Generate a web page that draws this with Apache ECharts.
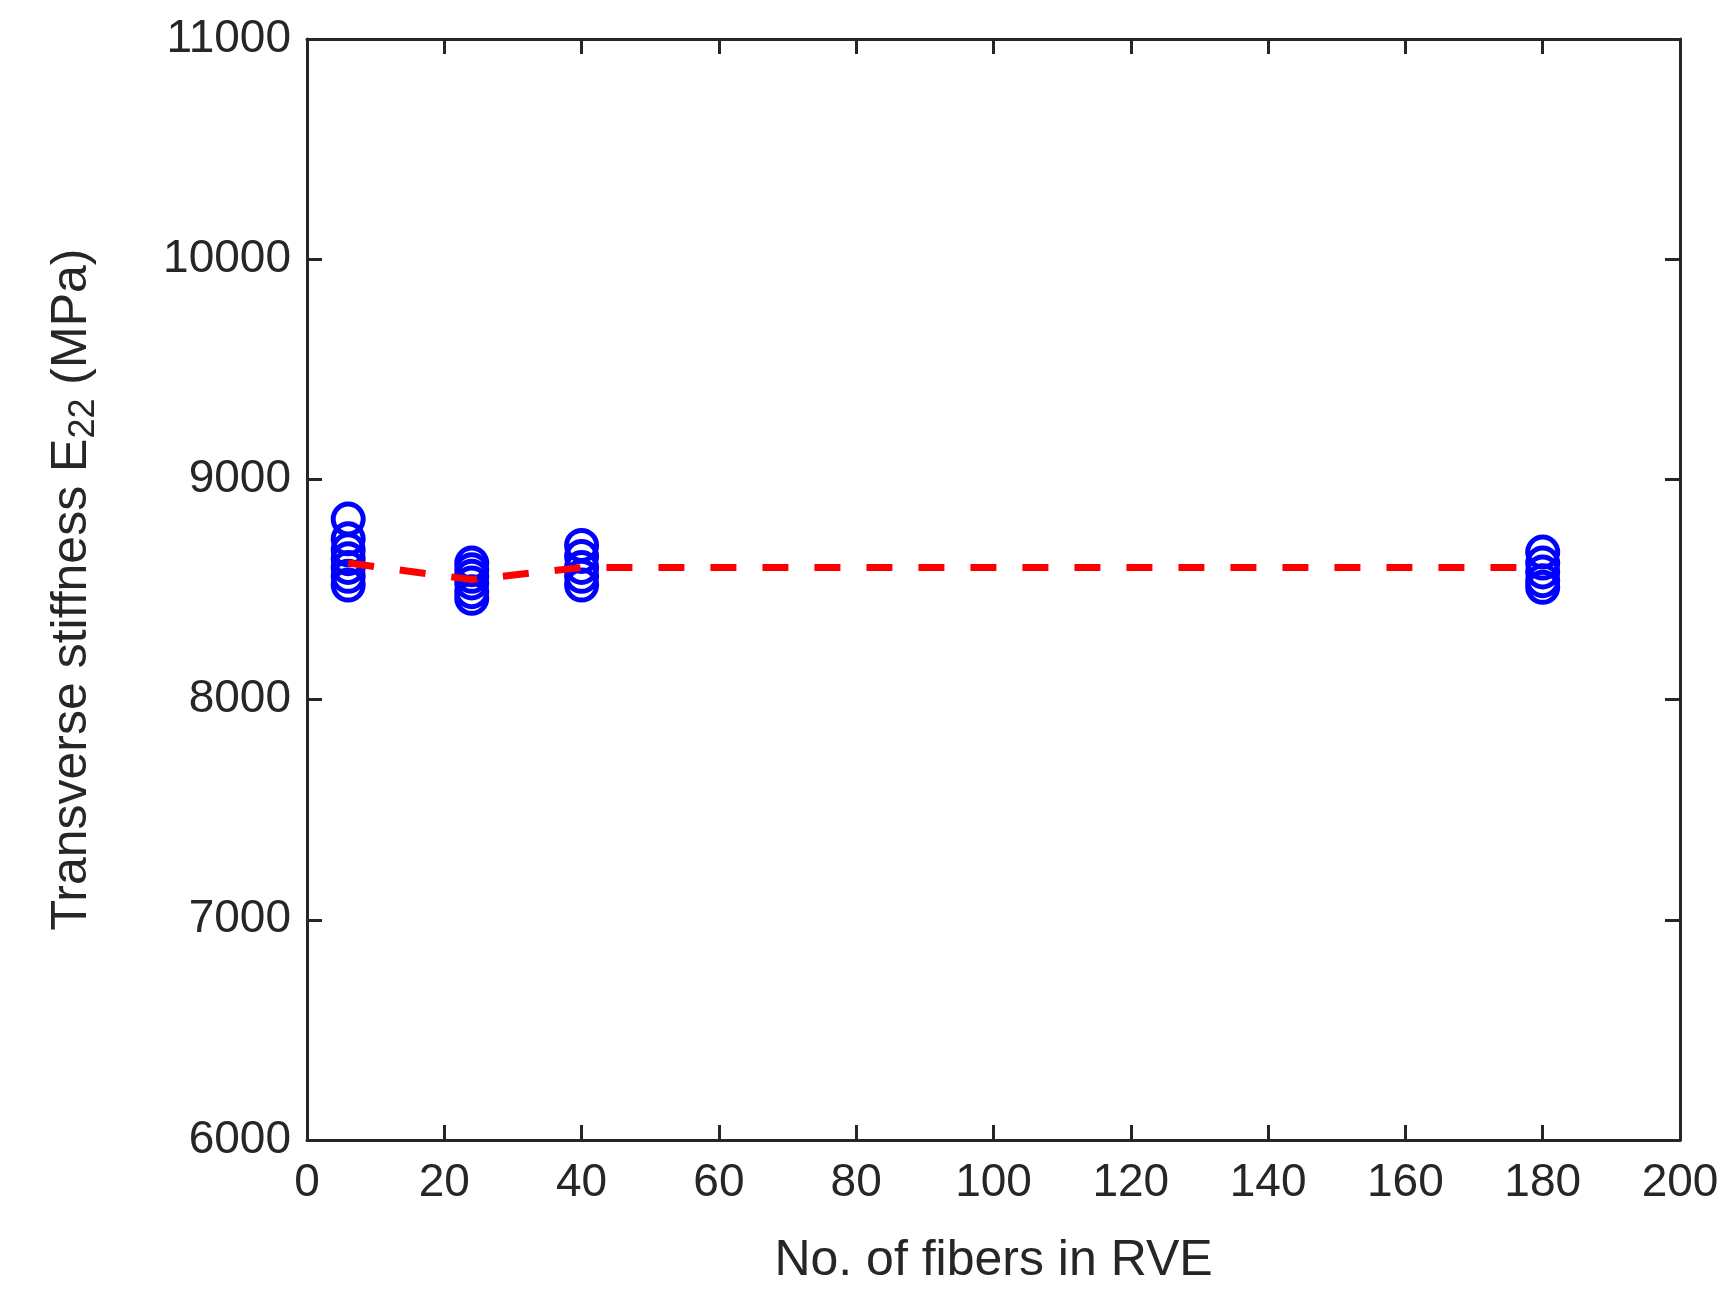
<!DOCTYPE html>
<html>
<head>
<meta charset="utf-8">
<script src="https://cdn.jsdelivr.net/npm/echarts@6/dist/echarts.min.js"></script>
<style>html,body{margin:0;padding:0;background:#fff}#chart{width:1730px;height:1314px}</style>
</head>
<body>
<div id="chart"></div>
<script>
'use strict';
var fiberCounts = [6, 24, 40, 180];
var samples6 = [8820, 8730, 8680, 8640, 8600, 8560, 8520];
var samples24 = [8620, 8590, 8560, 8530, 8490, 8460];
var samples40 = [8700, 8650, 8600, 8560, 8520];
var samples180 = [8670, 8620, 8580, 8540, 8510];
var meanValues = [8620, 8545, 8600, 8600];

var allSamples = [samples6, samples24, samples40, samples180];
var scatterData = [];
allSamples.forEach(function (arr, i) {
	arr.forEach(function (v) { scatterData.push([fiberCounts[i], v]); });
});
var meanData = fiberCounts.map(function (x, i) { return [x, meanValues[i]]; });

var chart = echarts.init(document.getElementById('chart'));
var axisLine = {show: true, onZero: false, lineStyle: {color: '#262626', width: 3}};
var tick = {show: true, inside: true, length: 15, lineStyle: {color: '#262626', width: 3}};
var fontBase = {fontFamily: 'Liberation Sans, Arial', color: '#262626'};
var plain = function (v) { return String(v); };

chart.setOption({
	animation: false,
	backgroundColor: '#fff',
	grid: {left: 307, right: 50, top: 39, bottom: 174},
	xAxis: [{
		type: 'value', min: 0, max: 200, interval: 20, position: 'bottom',
		axisLine: axisLine, axisTick: tick,
		axisLabel: Object.assign({fontSize: 46, margin: 20, formatter: plain}, fontBase),
		splitLine: {show: false},
		name: 'No. of fibers in RVE', nameLocation: 'middle', nameGap: 96,
		nameTextStyle: Object.assign({fontSize: 50}, fontBase)
	}, {
		type: 'value', min: 0, max: 200, interval: 20, position: 'top',
		axisLine: axisLine, axisTick: tick,
		axisLabel: {show: false}, splitLine: {show: false}
	}],
	yAxis: [{
		type: 'value', min: 6000, max: 11000, interval: 1000, position: 'left',
		axisLine: axisLine, axisTick: tick,
		axisLabel: Object.assign({fontSize: 46, margin: 16, formatter: plain}, fontBase),
		splitLine: {show: false},
		name: '{n|Transverse stiffness E}{s|22}{n| (MPa)}', nameLocation: 'middle', nameGap: 205,
		nameTextStyle: {
			rich: {
				n: Object.assign({fontSize: 50}, fontBase),
				s: Object.assign({fontSize: 36, verticalAlign: 'bottom', padding: [24, 0, 0, 0]}, fontBase)
			}
		}
	}, {
		type: 'value', min: 6000, max: 11000, interval: 1000, position: 'right',
		axisLine: axisLine, axisTick: tick,
		axisLabel: {show: false}, splitLine: {show: false}
	}],
	series: [{
		type: 'scatter',
		data: scatterData,
		symbol: 'circle',
		symbolSize: 30,
		itemStyle: {color: 'rgba(0,0,0,0)', borderColor: '#0000ff', borderWidth: 5, opacity: 1}
	}, {
		type: 'line',
		data: meanData,
		symbol: 'none',
		lineStyle: {color: '#ff0000', width: 7, type: [26, 26]},
		z: 3
	}]
});
</script>
</body>
</html>
